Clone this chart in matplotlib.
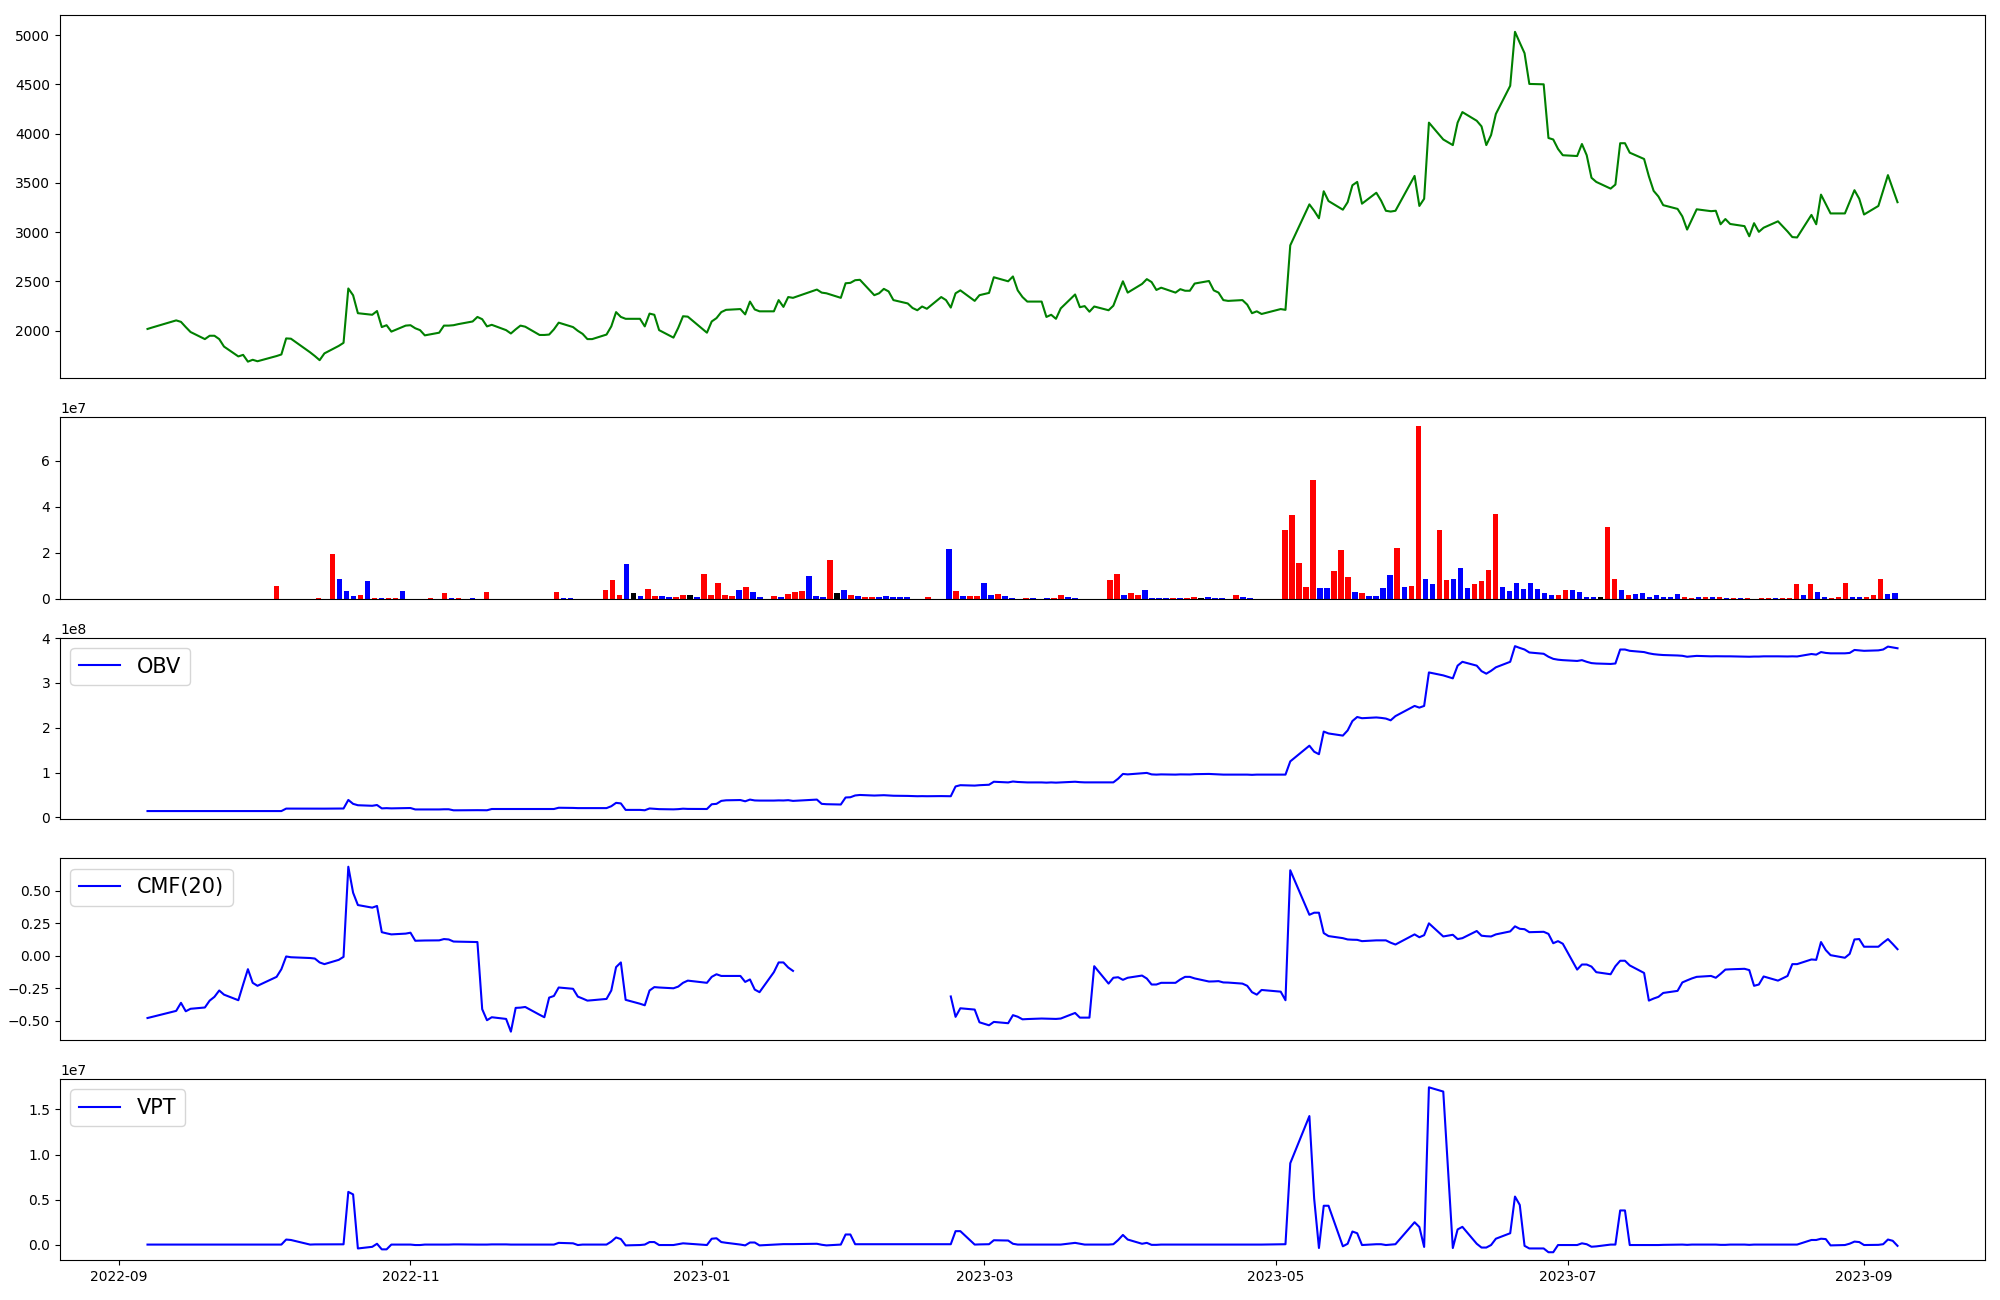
import numpy as np
import pandas as pd
import matplotlib
matplotlib.use("Agg")
import matplotlib.pyplot as plt
import matplotlib.dates as mdates

# ---- trading calendar (KRX trading days) ----
holidays = ["2022-09-09", "2022-09-12", "2022-10-03", "2022-10-10", "2022-12-30",
            "2023-01-23", "2023-01-24", "2023-03-01", "2023-05-01", "2023-05-05",
            "2023-05-29", "2023-06-06", "2023-08-15"]
dates = pd.bdate_range("2022-09-07", "2023-09-08")
dates = dates[~dates.isin(pd.to_datetime(holidays))]

# ---- close price, by month ----
price_sep22 = [2016, 2031, 2103, 2088, 2035, 1985, 1913, 1947, 1947, 1913, 1837, 1737, 1753, 1684, 1703, 1688]
price_oct22 = [1741, 1757, 1920, 1917, 1779, 1741, 1699, 1768, 1844, 1875, 2427, 2358, 2176, 2160, 2198, 2035, 2054, 1989, 2050]
price_nov22 = [2054, 2023, 2004, 1951, 1978, 2050, 2050, 2054, 2065, 2092, 2138, 2115, 2042, 2058, 2004, 1970, 2012, 2050, 2039, 1955, 1955, 1959]
price_dec22 = [2012, 2080, 2035, 1997, 1966, 1913, 1913, 1959, 2042, 2187, 2138, 2119, 2119, 2042, 2172, 2160, 2004, 1928, 2027, 2145, 2141]
price_jan23 = [1978, 2092, 2126, 2187, 2210, 2218, 2164, 2294, 2214, 2195, 2195, 2309, 2240, 2340, 2332, 2416, 2385, 2378, 2332, 2480]
price_feb23 = [2484, 2511, 2515, 2359, 2378, 2423, 2397, 2309, 2275, 2229, 2206, 2244, 2221, 2340, 2309, 2233, 2378, 2408, 2301, 2359]
price_mar23 = [2382, 2541, 2500, 2549, 2408, 2340, 2294, 2294, 2138, 2160, 2119, 2225, 2366, 2237, 2248, 2191, 2244, 2206, 2252, 2378, 2500, 2385]
price_apr23 = [2473, 2522, 2492, 2412, 2435, 2385, 2420, 2404, 2404, 2477, 2503, 2408, 2385, 2309, 2301, 2309, 2263, 2176, 2195, 2168]
price_may23 = [2218, 2210, 2865, 3281, 3216, 3140, 3414, 3315, 3227, 3303, 3475, 3509, 3288, 3399, 3319, 3216, 3208, 3216, 3570, 3265]
price_jun23 = [3338, 4111, 3940, 3883, 4111, 4218, 4130, 4073, 3883, 3985, 4199, 4485, 5033, 4923, 4816, 4504, 4500, 3955, 3940, 3844, 3780]
price_jul23 = [3772, 3894, 3780, 3551, 3509, 3441, 3482, 3902, 3902, 3806, 3742, 3566, 3418, 3361, 3273, 3235, 3159, 3025, 3128, 3231, 3212]
price_aug23 = [3216, 3079, 3132, 3082, 3060, 2957, 3090, 3002, 3044, 3109, 3006, 2949, 2945, 3174, 3079, 3380, 3284, 3189, 3189, 3307, 3425, 3338]
price_sep23 = [3178, 3265, 3422, 3578, 3441, 3303]

# ---- volume (millions), by month ----
vol_sep22 = [0.05] * 16
vol_oct22 = [0.05, 0.05, 5.4, 0.05, 0.05, 0.05, 0.05, 0.05, 0.4, 0.05, 19.3, 8.7, 3.3, 1.3, 1.8, 7.5, 0.5, 0.5, 0.5]
vol_nov22 = [0.5, 3.3, 0.05, 0.05, 0.05, 0.4, 0.05, 2.3, 0.4, 0.4, 0.05, 0.4, 0.05, 2.8, 0.05, 0.05, 0.05, 0.05, 0.05, 0.05, 0.05, 0.05]
vol_dec22 = [0.05, 2.8, 0.5, 0.5, 0.05, 0.05, 0.05, 0.05, 3.8, 8.2, 1.5, 14.9, 2.3, 1.0, 4.1, 1.0, 1.0, 0.6, 0.6, 1.5, 1.5]
vol_jan23 = [0.6, 10.6, 1.5, 6.7, 1.5, 1.0, 3.8, 4.9, 2.8, 0.6, 0.05, 1.0, 0.6, 2.0, 2.8, 3.4, 9.7, 1.0, 0.6, 16.7]
vol_feb23 = [2.3, 3.6, 1.8, 1.3, 0.6, 0.6, 0.6, 1.0, 0.6, 0.6, 0.6, 0.05, 0.05, 0.6, 0.05, 0.05, 21.5, 3.4, 1.0, 1.0]
vol_mar23 = [1.0, 6.7, 1.5, 2.0, 1.0, 0.5, 0.05, 0.5, 0.5, 0.05, 0.5, 0.5, 1.5, 0.9, 0.5, 0.05, 0.05, 0.05, 0.05, 8.2, 10.6, 1.5]
vol_apr23 = [2.3, 1.5, 3.8, 0.5, 0.5, 0.5, 0.5, 0.5, 0.5, 0.9, 0.5, 0.9, 0.5, 0.5, 0.05, 1.5, 0.9, 0.5, 0.05, 0.05]
vol_may23 = [0.05, 0.05, 29.8, 36.4, 15.4, 4.9, 51.6, 4.6, 4.6, 12.0, 21.1, 9.3, 2.8, 2.3, 1.0, 1.0, 4.6, 10.2, 21.9, 4.9]
vol_jun23 = [5.4, 75.0, 8.4, 6.2, 30.0, 8.2, 8.4, 13.3, 4.6, 6.2, 7.5, 12.3, 36.7, 4.9, 3.3, 6.7, 4.1, 7.0, 4.1, 2.3, 1.5]
vol_jul23 = [1.5, 3.6, 3.6, 2.8, 0.9, 0.9, 0.9, 31.1, 8.4, 3.6, 1.5, 2.0, 2.3, 0.9, 1.5, 0.9, 0.9, 2.0, 0.9, 0.5, 0.9]
vol_aug23 = [0.9, 0.9, 0.9, 0.5, 0.5, 0.5, 0.5, 0.05, 0.5, 0.5, 0.5, 0.5, 0.5, 6.2, 1.5, 6.2, 2.8, 0.9, 0.5, 0.9, 6.7, 0.9]
vol_sep23 = [0.9, 0.9, 1.5, 8.4, 2.0, 2.3]

# ---- candle direction of each bar: r = up, b = down, k = flat ----
dir_sep22 = "bbbbbbbbbbbbbbbb"
dir_oct22 = "bbrbbbbbrbrbbbrbrbr"
dir_nov22 = "rbbbbrbrbrbbbrbbbbbbbb"
dir_dec22 = "brbbbbbbrrrbkbrrbbrrk"
dir_jan23 = "brrrrrbrbbbrbrrrbbbr"
dir_feb23 = "kbrbrrbbbbbbbrbbbrbr"
dir_mar23 = "rbbrbbbrbbbrrbbbbbbrrb"
dir_apr23 = "rrbbbbrbrrkbbbbrbbbb"
dir_may23 = "bbrrrrrbbrrrbrbbbbrb"
dir_jun23 = "rrbbrrbbbrrrrbbbbbbbb"
dir_jul23 = "rrbbbbkrrbrbbbbbbbrrb"
dir_aug23 = "rbrbrbrbrrbrrrbrbbrrrb"
dir_sep23 = "brrrbb"

# ---- OBV (1e7), by month ----
obv_sep22 = [1.42, 1.42, 1.42, 1.42, 1.42, 1.42, 1.42, 1.42, 1.42, 1.42, 1.42, 1.42, 1.42, 1.42, 1.42, 1.42]
obv_oct22 = [1.42, 1.42, 1.97, 1.97, 1.96, 1.96, 1.96, 1.96, 2.0, 1.99, 3.9, 3.03, 2.72, 2.6, 2.77, 2.02, 2.07, 2.02, 2.07]
obv_nov22 = [2.1, 1.78, 1.78, 1.78, 1.78, 1.82, 1.82, 1.59, 1.59, 1.62, 1.62, 1.6, 1.6, 1.88, 1.88, 1.88, 1.88, 1.88, 1.88, 1.88, 1.88, 1.88]
obv_dec22 = [1.88, 2.16, 2.12, 2.08, 2.08, 2.08, 2.08, 2.08, 2.5, 3.25, 3.13, 1.68, 1.68, 1.6, 2.0, 1.92, 1.85, 1.8, 1.85, 1.95, 1.9]
obv_jan23 = [1.88, 2.94, 3.03, 3.69, 3.82, 3.88, 3.6, 3.98, 3.79, 3.76, 3.76, 3.8, 3.78, 3.85, 3.69, 3.98, 3.03, 2.95, 2.88, 4.45]
obv_feb23 = [4.5, 4.9, 5.01, 4.88, 4.92, 4.96, 4.9, 4.84, 4.8, 4.76, 4.73, 4.75, 4.73, 4.76, 4.74, 4.73, 6.91, 7.19, 7.1, 7.19]
obv_mar23 = [7.29, 7.96, 7.81, 8.01, 7.91, 7.86, 7.81, 7.81, 7.76, 7.81, 7.76, 7.81, 7.96, 7.87, 7.82, 7.82, 7.82, 7.82, 7.82, 8.64, 9.7, 9.6]
obv_apr23 = [9.85, 9.93, 9.6, 9.55, 9.6, 9.55, 9.6, 9.58, 9.58, 9.65, 9.7, 9.65, 9.6, 9.55, 9.55, 9.55, 9.55, 9.5, 9.55, 9.55]
obv_may23 = [9.55, 9.55, 12.5, 16.0, 14.66, 14.1, 19.15, 18.73, 18.25, 19.4, 21.5, 22.4, 22.13, 22.3, 22.2, 22.05, 21.66, 22.6, 24.87, 24.49]
obv_jun23 = [24.87, 32.34, 31.68, 31.02, 33.85, 34.71, 33.85, 32.63, 32.06, 32.7, 33.48, 34.71, 38.2, 37.8, 37.45, 36.79, 36.5, 35.84, 35.37, 35.18, 35.08]
obv_jul23 = [34.9, 35.08, 34.71, 34.42, 34.33, 34.23, 34.33, 37.45, 37.45, 37.16, 36.88, 36.6, 36.41, 36.3, 36.22, 36.12, 36.05, 35.84, 35.93, 36.03, 35.93]
obv_aug23 = [35.95, 35.93, 35.93, 35.93, 35.88, 35.84, 35.88, 35.88, 35.93, 35.93, 35.9, 35.93, 35.9, 36.45, 36.31, 36.88, 36.69, 36.6, 36.6, 36.69, 37.35, 37.26]
obv_sep23 = [37.16, 37.26, 37.45, 38.1, 37.92, 37.73]

# ---- CMF(20), by month ----
nan = float("nan")
cmf_sep22 = [-0.480, -0.471, -0.425, -0.363, -0.428, -0.409, -0.399, -0.346, -0.317, -0.268, -0.300, -0.343, -0.222, -0.104, -0.209, -0.232]
cmf_oct22 = [-0.163, -0.104, -0.006, -0.012, -0.018, -0.022, -0.052, -0.065, -0.032, -0.009, 0.685, 0.485, 0.390, 0.370, 0.383, 0.181, 0.172, 0.164, 0.170]
cmf_nov22 = [0.177, 0.115, 0.116, 0.117, 0.118, 0.128, 0.125, 0.109, 0.108, 0.106, 0.105, -0.412, -0.497, -0.474, -0.487, -0.585, -0.402, -0.400, -0.395, -0.455, -0.474, -0.323]
cmf_dec22 = [-0.310, -0.245, -0.255, -0.315, -0.330, -0.346, -0.343, -0.333, -0.268, -0.088, -0.052, -0.340, -0.370, -0.382, -0.268, -0.242, -0.245, -0.251, -0.238, -0.209, -0.192]
cmf_jan23 = [-0.209, -0.163, -0.143, -0.156, -0.156, -0.156, -0.202, -0.183, -0.261, -0.281, -0.127, -0.052, -0.052, -0.091, -0.117, nan, nan, nan, nan, nan]
cmf_feb23 = [nan, nan, nan, nan, nan, nan, nan, nan, nan, nan, nan, nan, nan, nan, nan, -0.314, -0.471, -0.405, -0.415, -0.513]
cmf_mar23 = [-0.536, -0.510, -0.520, -0.458, -0.470, -0.490, -0.488, -0.484, -0.485, -0.486, -0.487, -0.484, -0.441, -0.477, -0.477, -0.477, -0.081, -0.215, -0.170, -0.166, -0.186, -0.170]
cmf_apr23 = [-0.153, -0.176, -0.222, -0.222, -0.209, -0.209, -0.183, -0.163, -0.163, -0.175, -0.199, -0.198, -0.196, -0.206, -0.207, -0.215, -0.232, -0.281, -0.300, -0.264]
cmf_may23 = [-0.277, -0.343, 0.658, 0.315, 0.331, 0.331, 0.174, 0.151, 0.135, 0.125, 0.123, 0.122, 0.112, 0.118, 0.118, 0.118, 0.100, 0.086, 0.164, 0.142]
cmf_jun23 = [0.158, 0.249, 0.148, 0.161, 0.128, 0.135, 0.190, 0.154, 0.150, 0.148, 0.164, 0.187, 0.226, 0.207, 0.204, 0.181, 0.184, 0.168, 0.096, 0.112, 0.092]
cmf_jul23 = [-0.107, -0.068, -0.068, -0.084, -0.127, -0.143, -0.081, -0.039, -0.039, -0.075, -0.133, -0.346, -0.330, -0.317, -0.287, -0.271, -0.206, -0.190, -0.175, -0.163, -0.156]
cmf_aug23 = [-0.170, -0.140, -0.107, -0.105, -0.101, -0.111, -0.232, -0.222, -0.160, -0.192, -0.156, -0.065, -0.065, -0.029, -0.032, 0.105, 0.043, 0.004, -0.016, 0.014, 0.125, 0.128]
cmf_sep23 = [0.069, 0.069, 0.100, 0.128, 0.090, 0.050]

# ---- VPT (1e6), by month ----
vpt_sep22 = [0.0, 0.0, 0.0, 0.0, 0.0, 0.0, 0.0, 0.0, 0.0, 0.0, 0.0, 0.0, 0.0, 0.0, 0.0, 0.0]
vpt_oct22 = [0.0, 0.0, 0.56, 0.51, 0.0, 0.02, 0.02, 0.02, 0.02, 0.03, 5.85, 5.57, -0.43, -0.25, 0.09, -0.53, -0.53, 0.0, 0.0]
vpt_nov22 = [0.0, -0.05, -0.05, 0.0, 0.0, 0.0, 0.0, 0.02, 0.02, 0.0, 0.0, 0.0, 0.0, 0.02, 0.02, 0.0, 0.0, 0.0, 0.0, 0.0, 0.0, 0.0]
vpt_dec22 = [0.0, 0.19, 0.14, -0.05, 0.0, 0.0, 0.0, 0.0, 0.33, 0.79, 0.61, -0.09, -0.05, 0.0, 0.28, 0.28, -0.05, -0.05, 0.05, 0.14, 0.10]
vpt_jan23 = [-0.05, 0.65, 0.70, 0.28, 0.20, 0.0, -0.09, 0.23, 0.23, -0.09, 0.0, 0.04, 0.05, 0.05, 0.05, 0.09, -0.02, -0.09, 0.0, 1.12]
vpt_feb23 = [1.12, 0.04, 0.04, 0.04, 0.04, 0.04, 0.04, 0.04, 0.04, 0.04, 0.04, 0.04, 0.04, 0.04, 0.04, 0.04, 1.49, 1.49, 0.0, 0.02]
vpt_mar23 = [0.04, 0.48, 0.45, 0.09, 0.0, 0.0, 0.0, 0.0, 0.0, 0.0, 0.0, 0.0, 0.19, 0.10, 0.0, 0.0, 0.0, 0.0, 0.04, 0.50, 1.07, 0.56]
vpt_apr23 = [0.09, 0.19, -0.03, -0.03, 0.0, 0.0, 0.0, 0.0, 0.0, 0.0, 0.0, 0.0, 0.0, 0.0, 0.0, 0.0, 0.0, 0.0, 0.0, 0.0]
vpt_may23 = [0.04, 0.04, 9.03, 14.27, 5.10, -0.38, 4.31, 4.31, -0.19, 0.09, 1.45, 1.26, -0.05, 0.04, 0.04, -0.05, 0.0, 0.04, 2.48, 1.95]
vpt_jun23 = [-0.26, 17.46, 16.99, -0.38, 1.68, 1.97, 0.09, -0.33, -0.33, -0.05, 0.65, 1.26, 5.33, 4.40, -0.14, -0.43, -0.43, -0.85, -0.85, -0.05, -0.05]
vpt_jul23 = [-0.05, 0.14, 0.04, -0.24, -0.20, 0.0, 0.0, 3.79, 3.79, -0.05, -0.05, -0.05, -0.05, -0.05, -0.03, 0.0, 0.0, -0.03, 0.0, 0.0, 0.0]
vpt_aug23 = [0.0, -0.03, -0.03, 0.0, 0.0, -0.03, 0.0, 0.0, 0.0, 0.0, 0.0, 0.0, 0.0, 0.51, 0.51, 0.65, 0.61, -0.09, -0.05, 0.10, 0.33, 0.28]
vpt_sep23 = [-0.05, -0.03, 0.04, 0.56, 0.42, -0.14]

months = ["sep22", "oct22", "nov22", "dec22", "jan23", "feb23", "mar23",
          "apr23", "may23", "jun23", "jul23", "aug23", "sep23"]
g = globals()
price = np.concatenate([g["price_" + m] for m in months]).astype(float)
volume = np.concatenate([g["vol_" + m] for m in months]) * 1e6
direction = "".join(g["dir_" + m] for m in months)
obv = np.concatenate([g["obv_" + m] for m in months]) * 1e7
cmf = np.concatenate([g["cmf_" + m] for m in months])
vpt = np.concatenate([g["vpt_" + m] for m in months]) * 1e6

n = len(dates)
for arr in (price, volume, obv, cmf, vpt):
    assert len(arr) == n, (len(arr), n)
assert len(direction) == n

cmap = {"r": "red", "b": "blue", "k": "black"}
bar_colors = [cmap[c] for c in direction]

# ---- figure ----
fig = plt.figure(figsize=(20, 13), dpi=100)
gs = fig.add_gridspec(5, 1, height_ratios=[2, 1, 1, 1, 1],
                      left=0.030, right=0.9925, top=0.9882, bottom=0.0304, hspace=0.18)
ax_p = fig.add_subplot(gs[0])
ax_v = fig.add_subplot(gs[1])
ax_o = fig.add_subplot(gs[2], sharex=ax_p)
ax_c = fig.add_subplot(gs[3], sharex=ax_p)
ax_t = fig.add_subplot(gs[4], sharex=ax_p)

ax_p.plot(dates, price, color="green")
ax_v.bar(np.arange(n), volume, color=bar_colors)
ax_o.plot(dates, obv, color="blue", label="OBV")
ax_c.plot(dates, cmf, color="blue", label="CMF(20)")
ax_t.plot(dates, vpt, color="blue", label="VPT")

for ax in (ax_o, ax_c, ax_t):
    ax.legend(loc="upper left", fontsize=15)

for ax in (ax_p, ax_v, ax_o, ax_c):
    ax.tick_params(axis="x", bottom=False, labelbottom=False)

ax_t.xaxis.set_major_locator(mdates.MonthLocator(bymonth=[1, 3, 5, 7, 9, 11]))
ax_t.xaxis.set_major_formatter(mdates.DateFormatter("%Y-%m"))

fig.savefig("out.png", dpi=100)
